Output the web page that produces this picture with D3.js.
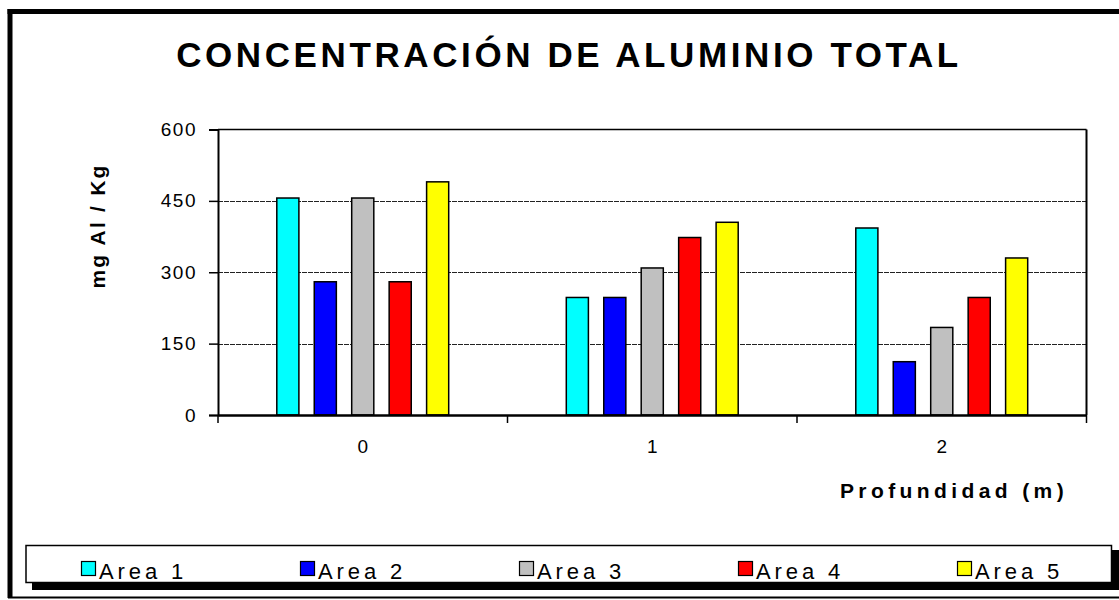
<!DOCTYPE html>
<html>
<head>
<meta charset="utf-8">
<script src="https://cdn.jsdelivr.net/npm/d3@7"></script>
<style>
  body { margin: 0; background: #fff; }
  svg { display: block; font-family: Arial, "Liberation Sans", sans-serif; }
</style>
</head>
<body>
<svg id="chart" width="1119" height="600"></svg>
<script>
const categories = ["0", "1", "2"]
const series = ["Area 1", "Area 2", "Area 3", "Area 4", "Area 5"]
const colors = ["#00ffff", "#0000ff", "#c0c0c0", "#ff0000", "#ffff00"]
// mg Al / Kg for each area, one value per depth
const area1 = [456, 247, 393]
const area2 = [280, 247, 112]
const area3 = [456, 309, 184]
const area4 = [280, 373, 247]
const area5 = [490, 405, 330]
const yTicks = [0, 150, 300, 450, 600]

const values = [area1, area2, area3, area4, area5]
const svg = d3.select("#chart")

const plotLeft = 218, plotRight = 1086.5, plotTop = 129.5, plotBottom = 415

// outer frame
svg.append("line").attr("x1", 10).attr("x2", 10).attr("y1", 9).attr("y2", 598)
  .attr("stroke", "#000").attr("stroke-width", 5)
svg.append("line").attr("x1", 7.5).attr("x2", 1119).attr("y1", 11.5).attr("y2", 11.5)
  .attr("stroke", "#000").attr("stroke-width", 5)
svg.append("line").attr("x1", 8).attr("x2", 1119).attr("y1", 597.5).attr("y2", 597.5)
  .attr("stroke", "#000").attr("stroke-width", 2)

// title
svg.append("text")
  .attr("x", 569).attr("y", 67)
  .attr("text-anchor", "middle")
  .style("font-size", "35px").style("font-weight", "bold")
  .style("letter-spacing", "3.6px")
  .text("CONCENTRACIÓN DE ALUMINIO TOTAL")

const x0 = d3.scaleBand().domain(categories).range([plotLeft, plotRight])
const x1 = d3.scaleBand().domain(series).range([0, x0.bandwidth()])
  .paddingInner(0.41).paddingOuter(1.57)
const y = d3.scaleLinear().domain([0, 600]).range([plotBottom, plotTop])

// gridlines
svg.append("g").selectAll("line")
  .data(yTicks.filter(t => t > 0 && t < 600))
  .join("line")
  .attr("x1", plotLeft).attr("x2", plotRight)
  .attr("y1", d => Math.round(y(d)) + 0.5).attr("y2", d => Math.round(y(d)) + 0.5)
  .attr("stroke", "#222").attr("stroke-width", 1)
  .attr("stroke-dasharray", "5,1")

// plot border (top and right)
svg.append("line").attr("x1", plotLeft).attr("x2", plotRight).attr("y1", y(600)).attr("y2", y(600))
  .attr("stroke", "#000").attr("stroke-width", 1.5)
svg.append("line").attr("x1", plotRight).attr("x2", plotRight).attr("y1", y(600)).attr("y2", plotBottom)
  .attr("stroke", "#000").attr("stroke-width", 2)

// bars
const groups = svg.append("g").selectAll("g")
  .data(categories)
  .join("g")
  .attr("transform", d => `translate(${x0(d)},0)`)

groups.selectAll("rect")
  .data((c, ci) => series.map((s, si) => ({ s: s, si: si, v: values[si][ci] })))
  .join("rect")
  .attr("x", d => x1(d.s))
  .attr("y", d => y(d.v))
  .attr("width", x1.bandwidth())
  .attr("height", d => plotBottom - y(d.v))
  .attr("fill", d => colors[d.si])
  .attr("stroke", "#000")
  .attr("stroke-width", 1.5)

// y axis
const yAxis = svg.append("g")
  .attr("transform", `translate(${plotLeft},0)`)
  .call(d3.axisLeft(y).tickValues(yTicks).tickSize(9).tickPadding(12))
yAxis.select(".domain").attr("stroke-width", 2)
yAxis.selectAll(".tick line").attr("stroke-width", 1.5)
yAxis.selectAll("text").style("font-size", "19px").style("letter-spacing", "1.5px")
  .attr("fill", "#000").attr("font-family", "Arial, 'Liberation Sans', sans-serif")

// x axis: labels at category centres, ticks at category boundaries
const xAxis = svg.append("g")
  .attr("transform", `translate(0,${plotBottom})`)
  .call(d3.axisBottom(x0).tickSize(0).tickPadding(25).tickSizeOuter(0))
xAxis.select(".domain").attr("stroke-width", 2.5)
xAxis.selectAll("text").style("font-size", "19px").attr("fill", "#000")
  .attr("font-family", "Arial, 'Liberation Sans', sans-serif")

const bounds = categories.map(c => x0(c)).concat([x0(categories[categories.length - 1]) + x0.bandwidth()])
svg.append("g").selectAll("line")
  .data(bounds)
  .join("line")
  .attr("x1", d => d).attr("x2", d => d)
  .attr("y1", plotBottom).attr("y2", plotBottom + 8)
  .attr("stroke", "#000").attr("stroke-width", 1.5)

// axis titles
svg.append("text")
  .attr("x", 954).attr("y", 498)
  .attr("text-anchor", "middle")
  .style("font-size", "21px").style("font-weight", "bold")
  .style("letter-spacing", "4.4px")
  .text("Profundidad (m)")

svg.append("text")
  .attr("transform", "translate(105,226) rotate(-90)")
  .attr("text-anchor", "middle")
  .style("font-size", "21px").style("font-weight", "bold")
  .style("letter-spacing", "2.2px")
  .text("mg Al / Kg")

// legend
svg.append("rect").attr("x", 32).attr("y", 550).attr("width", 1100).attr("height", 40)
  .attr("fill", "#000")
svg.append("rect").attr("x", 26).attr("y", 545.5).attr("width", 1085.5).attr("height", 37)
  .attr("fill", "#fff").attr("stroke", "#000").attr("stroke-width", 1.5)

const legendX = d3.scalePoint().domain(series).range([81, 957])
const items = svg.append("g").selectAll("g")
  .data(series)
  .join("g")
  .attr("transform", d => `translate(${legendX(d)},0)`)
items.append("rect")
  .attr("x", 0.5).attr("y", 561.5).attr("width", 14).attr("height", 14)
  .attr("fill", (d, i) => colors[i]).attr("stroke", "#000").attr("stroke-width", 1.2)
items.append("text")
  .attr("x", 18).attr("y", 579)
  .style("font-size", "22px").style("letter-spacing", "3.9px")
  .text(d => d)
</script>
</body>
</html>
